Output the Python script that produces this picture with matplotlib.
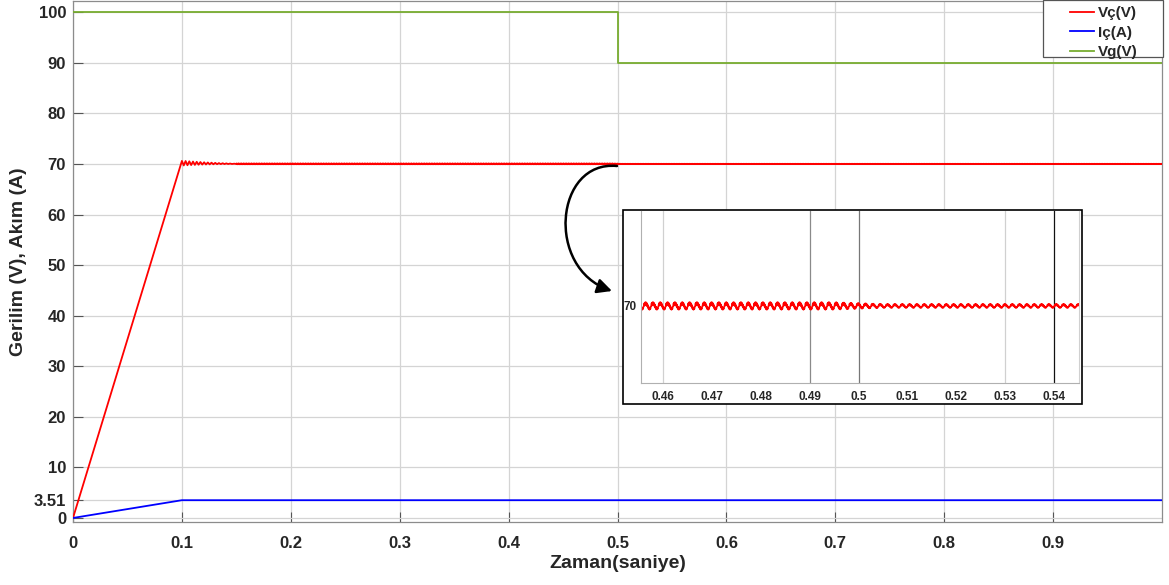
import numpy as np
import matplotlib.pyplot as plt
from matplotlib.patches import FancyArrowPatch, Rectangle
from matplotlib.path import Path

plt.rcParams['font.family'] = ['Liberation Sans', 'DejaVu Sans']
plt.rcParams['font.weight'] = 'bold'

# ---- data -------------------------------------------------------------
# ramp-up of output voltage / current during soft start
t_ramp = [0.0, 0.1]
vc_ramp = [0.0, 70.6]
ic_ramp = [0.0, 3.51]

# damped overshoot of Vç right after the ramp (alternating peaks / troughs)
t_settle = [0.1017, 0.1034, 0.1051, 0.1068, 0.1085, 0.1102, 0.1119, 0.1136,
            0.1153, 0.1170, 0.1187, 0.1204, 0.1221, 0.1238, 0.1255, 0.1272,
            0.1289, 0.1306, 0.1323, 0.1340, 0.1357, 0.1374, 0.1391, 0.1408,
            0.1425, 0.1442, 0.1460, 0.1480, 0.1500]
vc_settle = [69.70, 70.58, 69.74, 70.52, 69.78, 70.47, 69.81, 70.42, 69.84,
             70.38, 69.87, 70.33, 69.89, 70.29, 69.91, 70.25, 69.93, 70.21,
             69.95, 70.17, 69.96, 70.14, 69.97, 70.11, 69.98, 70.08, 69.99,
             70.05, 70.00]

# steady-state Vç ripple: one normalised cycle (with switching spikes)
# and ripple amplitude (V) over time
ripple_shape = [0.0, 0.7, 0.1, 0.95, 0.3, 1.0, 0.2, 0.8, -0.1, 0.4,
                -0.5, -0.1, -0.9, -0.4, -1.0, -0.5, -0.8, -0.2]
ripple_period = 0.0015
ripple_amp_t = [0.150, 0.495, 0.505, 1.000]
ripple_amp = [0.055, 0.055, 0.028, 0.028]
vc_steady = 70.0

# input voltage step
t_vg = [0.0, 0.5, 0.5, 1.0]
vg = [100.0, 100.0, 90.0, 90.0]

# current after ramp
t_ic = [0.1, 1.0]
ic_steady = [3.51, 3.51]

yticks = [0, 3.51, 10, 20, 30, 40, 50, 60, 70, 80, 90, 100]
ytick_labels = ['0', '3.51', '10', '20', '30', '40', '50', '60', '70', '80', '90', '100']
xticks = [0, 0.1, 0.2, 0.3, 0.4, 0.5, 0.6, 0.7, 0.8, 0.9]
xtick_labels = ['0', '0.1', '0.2', '0.3', '0.4', '0.5', '0.6', '0.7', '0.8', '0.9']
inset_xticks = [0.46, 0.47, 0.48, 0.49, 0.5, 0.51, 0.52, 0.53, 0.54]
inset_xtick_labels = ['0.46', '0.47', '0.48', '0.49', '0.5', '0.51', '0.52', '0.53', '0.54']

# ---- assemble series ----------------------------------------------------
n_shape = len(ripple_shape)
dt = ripple_period / n_shape
t_rip = np.arange(0.150 + dt, 1.0 + dt / 2, dt)
shape_vals = np.array(ripple_shape)[np.arange(len(t_rip)) % n_shape]
amp_vals = np.interp(t_rip, ripple_amp_t, ripple_amp)
vc_rip = vc_steady + amp_vals * shape_vals

t_vc = np.concatenate([t_ramp, t_settle, t_rip])
vc = np.concatenate([vc_ramp, vc_settle, vc_rip])
t_i = np.concatenate([t_ramp, t_ic])
ic = np.concatenate([ic_ramp, ic_steady])

# ---- colours ------------------------------------------------------------
c_red = '#ff0000'
c_blue = '#0000ff'
c_green = '#77ac30'
txt = '#262626'

W, H = 1169, 585
fig = plt.figure(figsize=(W / 100, H / 100), dpi=100)
ax = fig.add_axes([73 / W, 1 - 522 / H, (1162 - 73) / W, 522 / H - 0.001])

l1, = ax.plot(t_vc, vc, color=c_red, lw=1.3, label='Vç(V)', zorder=3)
l2, = ax.plot(t_i, ic, color=c_blue, lw=1.3, label='Iç(A)', zorder=3)
l3, = ax.plot(t_vg, vg, color=c_green, lw=1.3, label='Vg(V)', zorder=3)

ax.set_xlim(0, 1.0)
ax.set_ylim(-0.8, 102.3)
ax.set_xticks(xticks)
ax.set_xticklabels(xtick_labels)
ax.set_yticks(yticks)
ax.set_yticklabels(ytick_labels)
ax.tick_params(direction='in', length=7, width=0.8, color='#555555',
               labelsize=12, labelcolor=txt, top=False, right=False)
ax.tick_params(axis='x', pad=10)
ax.tick_params(axis='y', pad=5)
for lab in ax.get_xticklabels() + ax.get_yticklabels():
    lab.set_fontweight('bold')
ax.grid(True, color='#d4d4d4', lw=0.9)
for s in ax.spines.values():
    s.set_color('#8c8c8c')
    s.set_linewidth(0.9)

ax.set_xlabel('Zaman(saniye)', fontsize=14, fontweight='bold', color=txt, labelpad=3)
ax.set_ylabel('Gerilim (V), Akım (A)', fontsize=14, fontweight='bold', color=txt, labelpad=5)

# legend box with wide side margins
leg_box = Rectangle((1043 / W, 1 - 57 / H), (1163 - 1043) / W, 57 / H,
                    transform=fig.transFigure, facecolor='white',
                    edgecolor='#555555', lw=0.9, zorder=5)
fig.patches.append(leg_box)
leg = fig.legend(handles=[l1, l2, l3], loc='upper left',
                 bbox_to_anchor=(1070 / W, 1 - 6 / H), bbox_transform=fig.transFigure,
                 fontsize=11, frameon=False, borderaxespad=0.0, borderpad=0.0,
                 handlelength=1.55, handletextpad=0.3, labelspacing=0.36)
leg.set_zorder(6)
for t in leg.get_texts():
    t.set_fontweight('bold')
    t.set_color(txt)

# ---- zoomed view around the input step -------------------------------------
frame = Rectangle((623 / W, 1 - 404 / H), (1082 - 623) / W, (404 - 210) / H,
                  transform=fig.transFigure, facecolor='white', edgecolor='black',
                  lw=1.2, zorder=2)
fig.patches.append(frame)

ins = fig.add_axes([641 / W, 1 - 383 / H, (1079 - 641) / W, (383 - 211) / H])
ins.set_zorder(3)
ins.plot(t_vc, vc, color=c_red, lw=1.2)
ins.set_xlim(0.4555, 0.5451)
ins.set_ylim(68.88, 71.38)
ins.set_xticks(inset_xticks)
ins.set_xticklabels(inset_xtick_labels)
ins.set_yticks([70])
ins.set_yticklabels(['70'])
ins.tick_params(direction='in', length=0, labelsize=8.5, labelcolor=txt, pad=6)
ins.tick_params(axis='y', pad=3)
for lab in ins.get_xticklabels() + ins.get_yticklabels():
    lab.set_fontweight('bold')
inset_grid = {0.46: '#d0d0d0', 0.49: '#8a8a8a', 0.5: '#777777',
              0.53: '#d0d0d0', 0.54: '#111111'}
for xv, col in inset_grid.items():
    ins.axvline(xv, color=col, lw=0.9, zorder=0)
ins.spines['top'].set_visible(False)
ins.spines['left'].set_color('#b0b0b0')
ins.spines['bottom'].set_color('#b0b0b0')
ins.spines['right'].set_color('#d0d0d0')

# curved arrow pointing into the zoomed view
px = [(617, 166), (555, 160), (545, 268), (612, 291)]
verts = [(x / W, 1 - y / H) for x, y in px]
arrow_path = Path(verts, [Path.MOVETO, Path.CURVE4, Path.CURVE4, Path.CURVE4])
arrow = FancyArrowPatch(path=arrow_path, arrowstyle='-|>', mutation_scale=22,
                        color='black', lw=1.8, transform=fig.transFigure, zorder=4)
fig.patches.append(arrow)

fig.savefig('out.png', dpi=100)
